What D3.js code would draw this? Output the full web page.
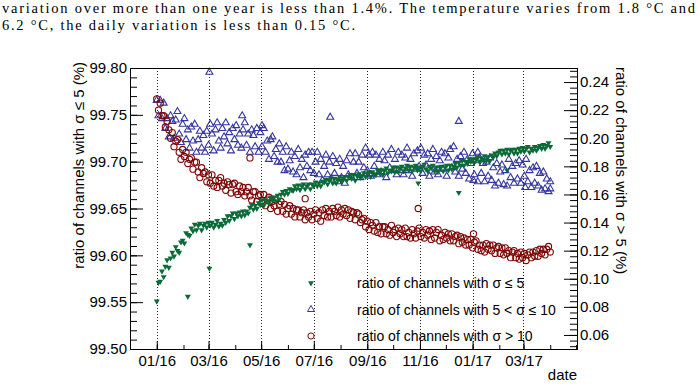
<!DOCTYPE html>
<html lang="en">
<head>
<meta charset="utf-8">
<title>channel ratio vs date</title>
<script src="https://cdn.jsdelivr.net/npm/d3@7"></script>
<style>
body { margin: 0; background: #fff; }
text { font-family: "Liberation Sans", Arial, Helvetica, sans-serif; }
</style>
</head>
<body>
<script>

// one value every stepDays days, starting at startDay
var startDay = "2016-01-01"
var stepDays = 2

// ratio of channels with sigma <= 5 (left axis, %)
var lowSigma = [
	99.551, 99.571, 99.572, 99.583, 99.577, 99.588, 99.595, 99.587, 99.597, 99.603,
	99.599, 99.609, 99.605, 99.603, 99.614, 99.616, 99.613, 99.624, 99.622, 99.621,
	99.629, 99.626, 99.633, 99.627, 99.632, 99.634, 99.627, 99.632, 99.634, 99.630,
	99.635, 99.632, 99.635, 99.630, 99.633, 99.637, 99.631, 99.634, 99.632, 99.638,
	99.635, 99.642, 99.637, 99.642, 99.645, 99.639, 99.645, 99.642, 99.646, 99.642,
	99.647, 99.643, 99.647, 99.645, 99.651, 99.654, 99.649, 99.653, 99.650, 99.656,
	99.654, 99.659, 99.653, 99.659, 99.658, 99.656, 99.662, 99.659, 99.662, 99.658,
	99.664, 99.660, 99.665, 99.668, 99.665, 99.669, 99.666, 99.671, 99.670, 99.669,
	99.674, 99.671, 99.675, 99.670, 99.674, 99.676, 99.671, 99.674, 99.676, 99.671,
	99.676, 99.674, 99.678, 99.674, 99.677, 99.674, 99.679, 99.678, 99.681, 99.676,
	99.680, 99.682, 99.677, 99.682, 99.677, 99.681, 99.684, 99.679, 99.682, 99.684,
	99.680, 99.684, 99.686, 99.682, 99.686, 99.680, 99.685, 99.687, 99.683, 99.685,
	99.688, 99.684, 99.687, 99.689, 99.684, 99.689, 99.687, 99.686, 99.691, 99.688,
	99.691, 99.686, 99.691, 99.693, 99.688, 99.691, 99.690, 99.694, 99.689, 99.694,
	99.689, 99.693, 99.695, 99.690, 99.693, 99.696, 99.691, 99.695, 99.690, 99.694,
	99.696, 99.691, 99.694, 99.690, 99.695, 99.697, 99.692, 99.690, 99.695, 99.693,
	99.696, 99.690, 99.694, 99.690, 99.694, 99.695, 99.690, 99.694, 99.696, 99.691,
	99.696, 99.692, 99.695, 99.698, 99.694, 99.699, 99.696, 99.701, 99.696, 99.700,
	99.698, 99.703, 99.700, 99.703, 99.699, 99.703, 99.705, 99.700, 99.704, 99.702,
	99.706, 99.701, 99.705, 99.701, 99.707, 99.705, 99.709, 99.706, 99.710, 99.712,
	99.708, 99.712, 99.709, 99.713, 99.708, 99.712, 99.713, 99.709, 99.713, 99.709,
	99.714, 99.711, 99.715, 99.711, 99.714, 99.716, 99.710, 99.714, 99.712, 99.716,
	99.712, 99.715, 99.717, 99.714, 99.718, 99.714, 99.717, 99.720, 99.716
]

// ratio of channels with 5 < sigma <= 10 (right axis, %)
var midSigma = [
	0.227, 0.216, 0.227, 0.214, 0.225, 0.207, 0.214, 0.201, 0.216, 0.212,
	0.200, 0.213, 0.219, 0.203, 0.197, 0.210, 0.214, 0.199, 0.206, 0.193,
	0.208, 0.198, 0.210, 0.190, 0.199, 0.205, 0.193, 0.202, 0.190, 0.205,
	0.195, 0.210, 0.203, 0.191, 0.206, 0.211, 0.198, 0.193, 0.207, 0.201,
	0.211, 0.196, 0.204, 0.191, 0.207, 0.199, 0.209, 0.195, 0.203, 0.193,
	0.206, 0.211, 0.195, 0.203, 0.190, 0.206, 0.202, 0.194, 0.207, 0.190,
	0.204, 0.194, 0.207, 0.190, 0.198, 0.185, 0.199, 0.201, 0.187, 0.192,
	0.183, 0.196, 0.183, 0.190, 0.177, 0.194, 0.178, 0.184, 0.190, 0.176,
	0.187, 0.174, 0.192, 0.179, 0.185, 0.172, 0.188, 0.180, 0.190, 0.177,
	0.190, 0.175, 0.183, 0.190, 0.174, 0.185, 0.170, 0.180, 0.188, 0.174,
	0.183, 0.171, 0.187, 0.175, 0.182, 0.169, 0.185, 0.172, 0.180, 0.168,
	0.184, 0.174, 0.189, 0.172, 0.183, 0.189, 0.175, 0.183, 0.172, 0.188,
	0.179, 0.193, 0.177, 0.188, 0.173, 0.190, 0.180, 0.188, 0.174, 0.185,
	0.176, 0.190, 0.184, 0.172, 0.188, 0.179, 0.192, 0.177, 0.185, 0.174,
	0.190, 0.177, 0.188, 0.174, 0.186, 0.193, 0.177, 0.185, 0.173, 0.189,
	0.178, 0.191, 0.180, 0.193, 0.175, 0.188, 0.181, 0.189, 0.173, 0.185,
	0.192, 0.176, 0.187, 0.174, 0.184, 0.190, 0.178, 0.189, 0.173, 0.186,
	0.192, 0.179, 0.194, 0.176, 0.185, 0.173, 0.187, 0.178, 0.190, 0.175,
	0.185, 0.171, 0.182, 0.189, 0.174, 0.184, 0.169, 0.186, 0.175, 0.182,
	0.169, 0.183, 0.173, 0.186, 0.170, 0.179, 0.166, 0.182, 0.168, 0.176,
	0.181, 0.167, 0.177, 0.166, 0.185, 0.172, 0.180, 0.168, 0.182, 0.171,
	0.184, 0.168, 0.181, 0.173, 0.185, 0.169, 0.177, 0.165, 0.179, 0.168,
	0.180, 0.166, 0.175, 0.163, 0.176, 0.164, 0.171, 0.162, 0.169
]

// ratio of channels with sigma > 10 (right axis, %)
var highSigma = [
	0.228, 0.220, 0.225, 0.216, 0.216, 0.208, 0.212, 0.206, 0.200, 0.204,
	0.194, 0.198, 0.199, 0.190, 0.185, 0.192, 0.187, 0.190, 0.182, 0.185,
	0.186, 0.178, 0.183, 0.183, 0.176, 0.172, 0.179, 0.175, 0.176, 0.169,
	0.174, 0.168, 0.174, 0.166, 0.170, 0.165, 0.170, 0.172, 0.166, 0.168,
	0.163, 0.169, 0.167, 0.161, 0.167, 0.168, 0.162, 0.160, 0.166, 0.162,
	0.165, 0.159, 0.162, 0.165, 0.159, 0.156, 0.162, 0.162, 0.155, 0.159,
	0.160, 0.154, 0.160, 0.152, 0.156, 0.158, 0.150, 0.155, 0.152, 0.156,
	0.148, 0.153, 0.155, 0.148, 0.153, 0.146, 0.150, 0.152, 0.146, 0.150,
	0.144, 0.149, 0.149, 0.144, 0.147, 0.149, 0.142, 0.147, 0.144, 0.148,
	0.142, 0.146, 0.149, 0.143, 0.147, 0.141, 0.149, 0.145, 0.150, 0.144,
	0.148, 0.144, 0.150, 0.148, 0.145, 0.151, 0.144, 0.149, 0.146, 0.150,
	0.145, 0.149, 0.143, 0.148, 0.147, 0.142, 0.147, 0.146, 0.140, 0.142,
	0.143, 0.137, 0.141, 0.135, 0.140, 0.138, 0.134, 0.140, 0.133, 0.137,
	0.132, 0.137, 0.137, 0.132, 0.135, 0.131, 0.138, 0.133, 0.135, 0.130,
	0.136, 0.132, 0.135, 0.130, 0.136, 0.130, 0.133, 0.129, 0.135, 0.132,
	0.129, 0.134, 0.136, 0.130, 0.133, 0.129, 0.135, 0.131, 0.134, 0.128,
	0.135, 0.129, 0.133, 0.135, 0.127, 0.131, 0.128, 0.133, 0.129, 0.132,
	0.127, 0.132, 0.127, 0.130, 0.131, 0.125, 0.130, 0.126, 0.129, 0.124,
	0.128, 0.124, 0.128, 0.122, 0.126, 0.127, 0.121, 0.124, 0.120, 0.124,
	0.119, 0.125, 0.121, 0.124, 0.120, 0.124, 0.118, 0.122, 0.123, 0.118,
	0.122, 0.117, 0.122, 0.118, 0.120, 0.115, 0.119, 0.120, 0.115, 0.118,
	0.114, 0.119, 0.115, 0.118, 0.113, 0.117, 0.119, 0.115, 0.119, 0.116,
	0.120, 0.116, 0.121, 0.118, 0.121, 0.117, 0.121, 0.123, 0.119
]

// single days far from the trend
var lowOutliers = [["2016-02-06", 99.556], ["2016-03-02", 99.586], ["2016-04-18", 99.611],
	["2016-10-30", 99.677], ["2016-12-16", 99.667], ["2017-02-10", 99.691]]
var midOutliers = [["2016-03-02", 0.247], ["2016-04-09", 0.216], ["2016-05-02", 0.209],
	["2016-07-20", 0.215], ["2016-12-16", 0.212], ["2017-01-07", 0.190], ["2017-01-02", 0.170],
	["2017-03-03", 0.165], ["2017-04-01", 0.164]]
var highOutliers = [["2016-04-18", 0.186], ["2016-06-21", 0.157], ["2016-10-30", 0.150],
	["2017-01-02", 0.132]]

var xRange = ["2015-12-01", "2017-05-02"]
var majorMonths = ["2016-01-01", "2016-03-01", "2016-05-01", "2016-07-01",
	"2016-09-01", "2016-11-01", "2017-01-01", "2017-03-01"]
var leftTicks = [99.50, 99.55, 99.60, 99.65, 99.70, 99.75, 99.80]
var rightTicks = [0.06, 0.08, 0.10, 0.12, 0.14, 0.16, 0.18, 0.20, 0.22, 0.24]
var legendLabels = ["ratio of channels with \u03c3 \u2264 5",
	"ratio of channels with 5 < \u03c3 \u2264 10",
	"ratio of channels with \u03c3 > 10"]
var textLines = ["variation over more than one year is less than 1.4%. The temperature varies from 1.8 \u00b0C and",
	"6.2 \u00b0C, the daily variation is less than 0.15 \u00b0C."]

var w = 700, h = 387
var L = 130, R = 577, T = 68, B = 349
var green = "#0b6b38", blue = "#3535a0", red = "#7e0505"

var svg = d3.select("body").append("svg")
	.attr("width", w)
	.attr("height", h)

var parse = d3.timeParse("%Y-%m-%d")
var x = d3.scaleTime().domain(xRange.map(parse)).range([L, R])
var yL = d3.scaleLinear().domain([99.50, 99.80]).range([B, T])
var yR = d3.scaleLinear().domain([0.05, 0.25]).range([B, T])

// paper text above the figure
svg.selectAll(".para")
	.data(textLines)
	.enter()
	.append("text")
	.attr("x", 2)
	.attr("y", function(d, i) { return 13 + i * 17 })
	.attr("textLength", function(d, i) { return i == 0 ? 693 : 353 })
	.style("font-family", "'Liberation Serif', 'Times New Roman', serif")
	.style("font-size", "14.5px")
	.text(function(d) { return d })

// dotted lines at the labelled months
svg.selectAll(".grid")
	.data(majorMonths)
	.enter()
	.append("line")
	.attr("x1", function(d) { return Math.round(x(parse(d))) + 0.5 })
	.attr("x2", function(d) { return Math.round(x(parse(d))) + 0.5 })
	.attr("y1", T)
	.attr("y2", B)
	.attr("stroke", "#222")
	.attr("stroke-dasharray", "1,2")

function series(vals) {
	return vals.map(function(v, i) {
		return { date: d3.timeDay.offset(parse(startDay), i * stepDays), v: v }
	})
}
function outl(list) {
	return list.map(function(d) { return { date: parse(d[0]), v: d[1] } })
}

var triUp = d3.symbol().type(d3.symbolTriangle).size(21)
var triDown = d3.symbol().type(d3.symbolTriangle).size(15)

// 5 < sigma <= 10, open triangles
svg.append("g").selectAll("path")
	.data(series(midSigma).concat(outl(midOutliers)))
	.enter()
	.append("path")
	.attr("d", triUp)
	.attr("transform", function(d) { return "translate(" + x(d.date) + "," + yR(d.v) + ")" })
	.attr("fill", "none")
	.attr("stroke", blue)
	.attr("stroke-width", 1.1)

// sigma > 10, open circles
svg.append("g").selectAll("circle")
	.data(series(highSigma).concat(outl(highOutliers)))
	.enter()
	.append("circle")
	.attr("cx", function(d) { return x(d.date) })
	.attr("cy", function(d) { return yR(d.v) })
	.attr("r", 3.1)
	.attr("fill", "none")
	.attr("stroke", red)
	.attr("stroke-width", 1.1)

// sigma <= 5, full triangles pointing down
svg.append("g").selectAll("path")
	.data(series(lowSigma).concat(outl(lowOutliers)))
	.enter()
	.append("path")
	.attr("d", triDown)
	.attr("transform", function(d) { return "translate(" + x(d.date) + "," + yL(d.v) + ") rotate(180)" })
	.attr("fill", green)

// frame
svg.append("rect")
	.attr("x", L + 0.5)
	.attr("y", T + 0.5)
	.attr("width", R - L)
	.attr("height", B - T)
	.attr("fill", "none")
	.attr("stroke", "#000")

function styleAxis(g, size) {
	g.selectAll("line").attr("stroke", "#000")
	g.selectAll("path").attr("stroke", "#000")
	g.selectAll("text").style("font-size", size + "px").attr("fill", "#000")
		.style("font-family", "'Liberation Sans', Arial, sans-serif")
}

// x axis
var gx = svg.append("g").attr("transform", "translate(0," + B + ")")
	.call(d3.axisBottom(x).tickValues(majorMonths.map(parse))
		.tickFormat(d3.timeFormat("%m/%y")).tickSizeInner(-8).tickSizeOuter(0).tickPadding(6))
styleAxis(gx, 15)
var gx2 = svg.append("g").attr("transform", "translate(0," + B + ")")
	.call(d3.axisBottom(x).tickValues(d3.timeMonth.range(x.domain()[0], x.domain()[1]))
		.tickFormat("").tickSize(-4))
gx2.select(".domain").remove()
styleAxis(gx2, 15)

// left axis
var gl = svg.append("g").attr("transform", "translate(" + L + ",0)")
	.call(d3.axisLeft(yL).tickValues(leftTicks).tickFormat(d3.format(".2f"))
		.tickSizeInner(-13).tickSizeOuter(0).tickPadding(3))
styleAxis(gl, 15)
var gl2 = svg.append("g").attr("transform", "translate(" + L + ",0)")
	.call(d3.axisLeft(yL).tickValues(d3.range(99.51, 99.80, 0.01)).tickFormat("").tickSize(-7))
gl2.select(".domain").remove()
styleAxis(gl2, 15)

// right axis
var gr = svg.append("g").attr("transform", "translate(" + R + ",0)")
	.call(d3.axisRight(yR).tickValues(rightTicks).tickFormat(d3.format(".2f"))
		.tickSizeInner(-13).tickSizeOuter(0).tickPadding(3))
styleAxis(gr, 15)
var gr2 = svg.append("g").attr("transform", "translate(" + R + ",0)")
	.call(d3.axisRight(yR).tickValues(d3.range(0.052, 0.2495, 0.004)).tickFormat("").tickSize(-7))
gr2.select(".domain").remove()
styleAxis(gr2, 15)

// axis titles
svg.append("text")
	.attr("transform", "translate(84," + (T - 6) + ") rotate(-90)")
	.attr("text-anchor", "end")
	.style("font-size", "15px")
	.text("ratio of channels with \u03c3 \u2264 5 (%)")
svg.append("text")
	.attr("transform", "translate(616," + (T - 1) + ") rotate(90)")
	.attr("text-anchor", "start")
	.style("font-size", "15px")
	.text("ratio of channels with \u03c3 > 5 (%)")
svg.append("text")
	.attr("x", R)
	.attr("y", 380)
	.attr("text-anchor", "end")
	.style("font-size", "15px")
	.text("date")

// legend
var leg = svg.append("g")
var legY = function(i) { return 283 + i * 26.5 }
leg.append("path")
	.attr("d", triDown)
	.attr("transform", "translate(311," + legY(0) + ") rotate(180)")
	.attr("fill", green)
leg.append("path")
	.attr("d", triUp)
	.attr("transform", "translate(311," + legY(1) + ")")
	.attr("fill", "none")
	.attr("stroke", blue)
leg.append("circle")
	.attr("cx", 311)
	.attr("cy", legY(2))
	.attr("r", 3.1)
	.attr("fill", "none")
	.attr("stroke", red)
leg.selectAll("text")
	.data(legendLabels)
	.enter()
	.append("text")
	.attr("x", 357)
	.attr("y", function(d, i) { return legY(i) + 5 })
	.style("font-size", "14px")
	.text(function(d) { return d })

</script>
</body>
</html>
